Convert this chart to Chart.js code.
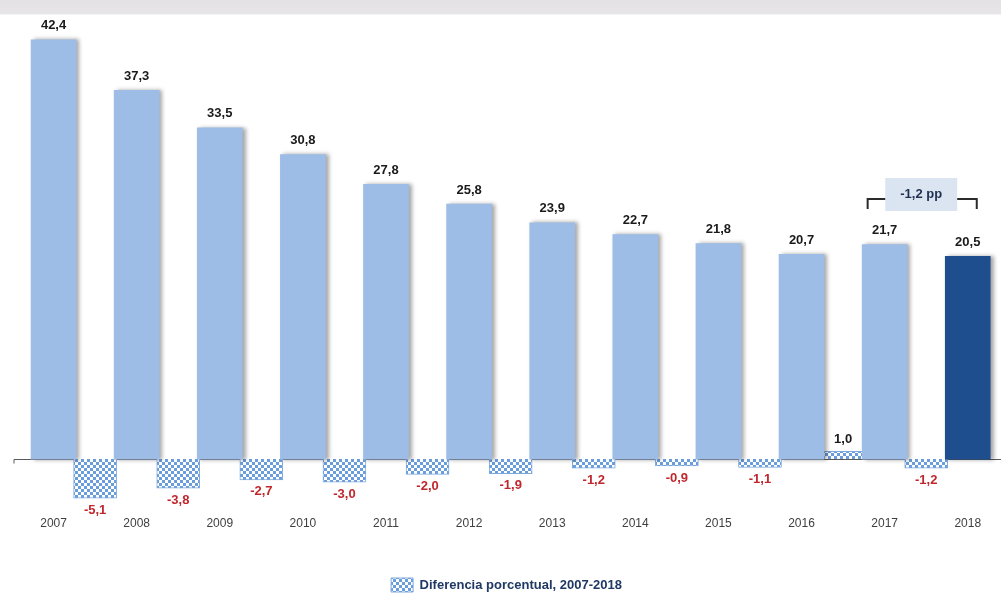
<!DOCTYPE html>
<html>
<head>
<meta charset="utf-8">
<script src="https://cdn.jsdelivr.net/npm/chart.js@4.4.1/dist/chart.umd.min.js"></script>
<style>
  html, body { margin: 0; padding: 0; }
  body {
    width: 1001px;
    height: 614px;
    overflow: hidden;
    background: linear-gradient(to bottom, #e3e1e4 0, #e7e5e8 14px, #ffffff 15px);
  }
  #wrap { position: relative; width: 1001px; height: 614px; }
</style>
</head>
<body>
<div id="wrap"><canvas id="chart"></canvas></div>
<script>
const years = ['2007', '2008', '2009', '2010', '2011', '2012', '2013', '2014', '2015', '2016', '2017', '2018'];
const rates = [42.4, 37.3, 33.5, 30.8, 27.8, 25.8, 23.9, 22.7, 21.8, 20.7, 21.7, 20.5];
// year-on-year change, sits between two consecutive years
const changes = [-5.1, -3.8, -2.7, -3.0, -2.0, -1.9, -1.2, -0.9, -1.1, 1.0, -1.2];
const changeLabel = 'Diferencia porcentual, 2007-2018';
const gapLabel = '-1,2 pp';

const narrow = '"Liberation Sans Narrow", "Arial Narrow", "Liberation Sans", Arial, sans-serif';
const fmt = v => v.toFixed(1).replace('.', ',');

function checker() {
  const c = document.createElement('canvas');
  c.width = 6;
  c.height = 6;
  const g = c.getContext('2d');
  g.fillStyle = '#ffffff';
  g.fillRect(0, 0, 6, 6);
  g.fillStyle = '#6a9ddb';
  g.fillRect(0, 0, 3, 3);
  g.fillRect(3, 3, 3, 3);
  return g.createPattern(c, 'repeat');
}

const barShadow = {
  id: 'barShadow',
  beforeDatasetDraw(chart, args) {
    if (args.index !== 0) return;
    const ctx = chart.ctx;
    ctx.save();
    ctx.shadowColor = 'rgba(0, 0, 0, 0.35)';
    ctx.shadowBlur = 4;
    ctx.shadowOffsetX = 3;
    ctx.shadowOffsetY = 0;
  },
  afterDatasetDraw(chart, args) {
    if (args.index !== 0) return;
    chart.ctx.restore();
  }
};

const zeroLine = {
  id: 'zeroLine',
  beforeDatasetsDraw(chart) {
    const { ctx, chartArea } = chart;
    const y = Math.round(chart.scales.y.getPixelForValue(0)) + 0.5;
    ctx.save();
    ctx.strokeStyle = '#5a5a5a';
    ctx.lineWidth = 1;
    ctx.beginPath();
    ctx.moveTo(chartArea.left + 2, y + 4);
    ctx.lineTo(chartArea.left + 2, y);
    ctx.lineTo(chartArea.right, y);
    ctx.stroke();
    ctx.restore();
  }
};

const valueLabels = {
  id: 'valueLabels',
  afterDatasetsDraw(chart) {
    const ctx = chart.ctx;
    ctx.save();
    ctx.textAlign = 'center';
    ctx.textBaseline = 'middle';
    ctx.font = 'bold 13px ' + narrow;

    chart.getDatasetMeta(0).data.forEach((bar, i) => {
      ctx.fillStyle = '#1a1a1a';
      ctx.fillText(fmt(rates[i]), bar.x, bar.y - 14);
    });

    chart.getDatasetMeta(1).data.forEach((bar, i) => {
      const v = changes[i];
      if (v < 0) {
        ctx.fillStyle = '#c0272d';
        ctx.fillText(fmt(v), bar.x, bar.y + 12);
      } else {
        ctx.fillStyle = '#1a1a1a';
        ctx.fillText(fmt(v), bar.x, bar.y - 12);
      }
    });
    ctx.restore();
  }
};

// bracket between the last two years with the change in a box
const gapNote = {
  id: 'gapNote',
  afterDatasetsDraw(chart) {
    const { ctx } = chart;
    const x = chart.scales.x;
    const y = chart.scales.y;
    const left = x.getPixelForValue(10) - 17;
    const right = x.getPixelForValue(11) + 9;
    const lineY = Math.round(y.getPixelForValue(26.3));
    const mid = (left + right) / 2 - 1;

    ctx.save();
    ctx.strokeStyle = '#2b2b2b';
    ctx.lineWidth = 2;
    ctx.beginPath();
    ctx.moveTo(left, lineY + 10);
    ctx.lineTo(left, lineY);
    ctx.lineTo(right, lineY);
    ctx.lineTo(right, lineY + 10);
    ctx.stroke();

    ctx.fillStyle = '#dbe5f1';
    ctx.fillRect(mid - 36, lineY - 21, 72, 33);

    ctx.fillStyle = '#1f3050';
    ctx.font = 'bold 13px ' + narrow;
    ctx.textAlign = 'center';
    ctx.textBaseline = 'middle';
    ctx.fillText(gapLabel, mid, lineY - 5);
    ctx.restore();
  }
};

new Chart(document.getElementById('chart'), {
  type: 'bar',
  data: {
    datasets: [
      {
        label: 'Tasa',
        data: rates.map((v, i) => ({ x: i, y: v })),
        backgroundColor: rates.map((v, i) => i === rates.length - 1 ? '#1f4e8e' : '#9dbde6'),
        borderWidth: 0,
        barThickness: 45,
        grouped: false,
        yAxisID: 'y'
      },
      {
        label: changeLabel,
        data: changes.map((v, i) => ({ x: i + 0.5, y: v })),
        backgroundColor: checker(),
        borderColor: '#7ca8dd',
        borderWidth: 1,
        barThickness: 43,
        grouped: false,
        yAxisID: 'y2'
      }
    ]
  },
  options: {
    responsive: true,
    maintainAspectRatio: false,
    animation: false,
    layout: { padding: { left: 12, right: 0, top: 24, bottom: 12 } },
    scales: {
      x: {
        type: 'linear',
        offset: false,
        min: -0.5,
        max: 11.4,
        grid: { display: false, drawTicks: false },
        border: { display: false },
        ticks: {
          stepSize: 1,
          includeBounds: false,
          maxRotation: 0,
          autoSkip: false,
          padding: 6,
          color: '#404040',
          font: { family: '"Liberation Sans", Arial, sans-serif', size: 12 },
          callback: v => years[v] ?? ''
        },
        afterFit(scale) {
          scale.height += 17;
        }
      },
      y: { display: false, min: -5.2, max: 44 },
      y2: { display: false, min: -6.7, max: 56.5 }
    },
    plugins: {
      legend: {
        position: 'bottom',
        labels: {
          filter: item => item.datasetIndex === 1,
          boxWidth: 22,
          boxHeight: 14,
          padding: 24,
          color: '#1f3864',
          font: { family: narrow, size: 13, weight: 'bold' }
        }
      },
      tooltip: { enabled: false }
    }
  },
  plugins: [barShadow, zeroLine, valueLabels, gapNote]
});
</script>
</body>
</html>
